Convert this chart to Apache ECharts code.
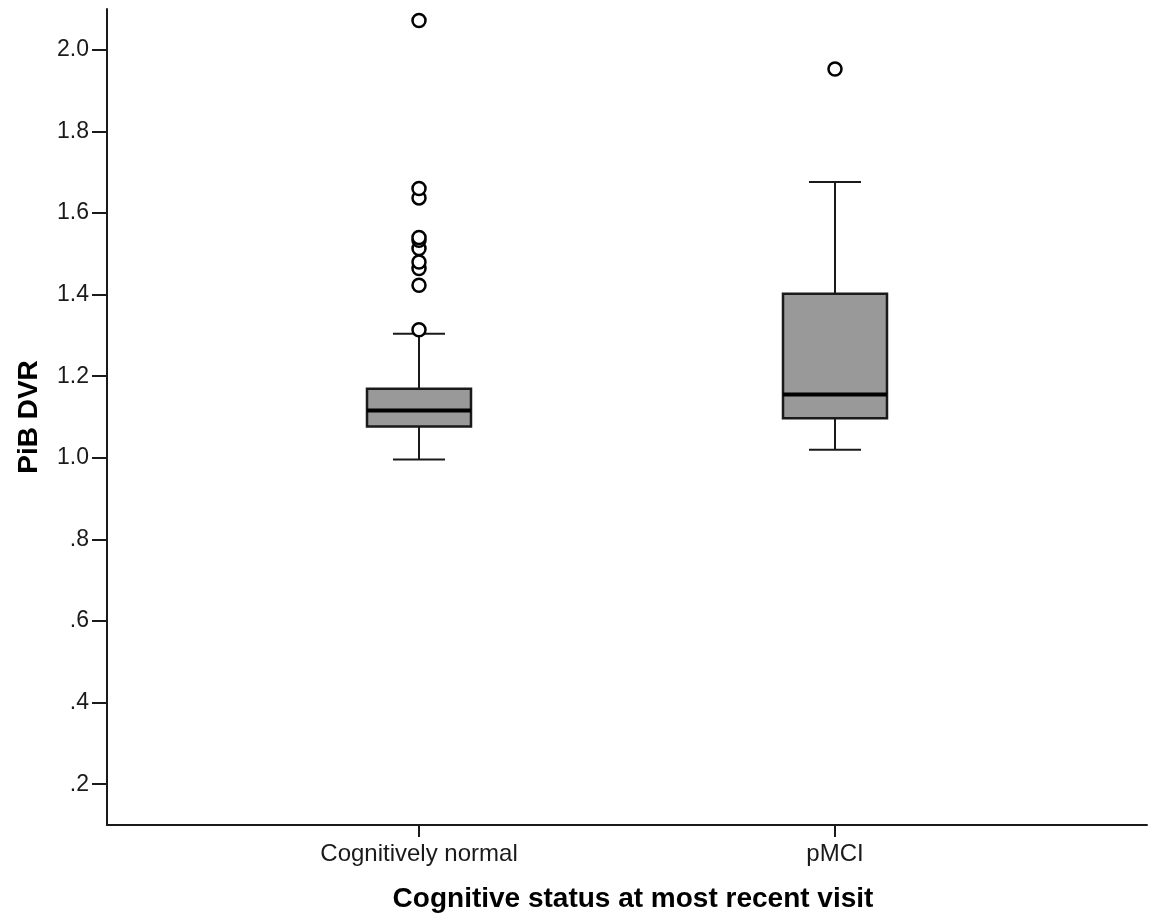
<!DOCTYPE html>
<html>
<head>
<meta charset="utf-8">
<title>PiB DVR by cognitive status</title>
<script src="https://cdn.jsdelivr.net/npm/echarts@6/dist/echarts.min.js"></script>
<style>
  html, body { margin: 0; padding: 0; background: #fff; }
  #chart { width: 1150px; height: 919px; }
</style>
</head>
<body>
<div id="chart"></div>
<script>
// 分组
const categories = ['Cognitively normal', 'pMCI']
// 箱线图五数
const lowWhisker = [0.996, 1.020]
const q1 = [1.077, 1.097]
const median = [1.116, 1.155]
const q3 = [1.169, 1.402]
const highWhisker = [1.304, 1.676]
// 异常值
const normalOutliers = [1.314, 1.423, 1.464, 1.480, 1.513, 1.533, 1.540, 1.637, 1.660, 2.072]
const pmciOutliers = [1.953]
// 纵轴刻度
const yTicks = [0.2, 0.4, 0.6, 0.8, 1.0, 1.2, 1.4, 1.6, 1.8, 2.0]

const chart = echarts.init(document.getElementById('chart'))

const boxData = categories.map((c, i) => [i, lowWhisker[i], q1[i], median[i], q3[i], highWhisker[i]])
const outlierData = normalOutliers.map(v => [0, v]).concat(pmciOutliers.map(v => [1, v]))

const lineStyle = { stroke: '#1a1a1a', lineWidth: 2 }

function renderBox(params, api) {
  const idx = api.value(0)
  const band = api.size([1, 0])[0]
  const boxW = band * 0.25
  const low = api.coord([idx, api.value(1)])
  const lq = api.coord([idx, api.value(2)])
  const med = api.coord([idx, api.value(3)])
  const uq = api.coord([idx, api.value(4)])
  const high = api.coord([idx, api.value(5)])
  const x = low[0]
  return {
    type: 'group',
    children: [
      { type: 'line', shape: { x1: x, y1: low[1], x2: x, y2: lq[1] }, style: lineStyle },
      { type: 'line', shape: { x1: x, y1: uq[1], x2: x, y2: high[1] }, style: lineStyle },
      { type: 'line', shape: { x1: x - boxW / 4, y1: low[1], x2: x + boxW / 4, y2: low[1] }, style: lineStyle },
      { type: 'line', shape: { x1: x - boxW / 4, y1: high[1], x2: x + boxW / 4, y2: high[1] }, style: lineStyle },
      {
        type: 'rect',
        shape: { x: x - boxW / 2, y: uq[1], width: boxW, height: lq[1] - uq[1] },
        style: { fill: '#999999', stroke: '#1a1a1a', lineWidth: 2.5 }
      },
      { type: 'line', shape: { x1: x - boxW / 2, y1: med[1], x2: x + boxW / 2, y2: med[1] }, style: { stroke: '#000', lineWidth: 4 } }
    ]
  }
}

const option = {
  animation: false,
  backgroundColor: '#fff',
  textStyle: { fontFamily: 'Liberation Sans, Arial, sans-serif' },
  grid: [
    { left: 107, right: 3, top: 9, bottom: 94 },
    { left: 211, right: 107, top: 9, bottom: 94 }
  ],
  xAxis: [
    {
      gridIndex: 0,
      type: 'category',
      data: [''],
      axisLine: { lineStyle: { color: '#1a1a1a', width: 2 } },
      axisTick: { show: false },
      axisLabel: { show: false },
      splitLine: { show: false }
    },
    {
      gridIndex: 1,
      type: 'category',
      data: categories,
      axisLine: { show: true, lineStyle: { color: '#1a1a1a', width: 2 } },
      axisTick: { show: true, interval: 0, alignWithLabel: true, length: 12, lineStyle: { color: '#1a1a1a', width: 2 } },
      axisLabel: { color: '#1a1a1a', fontSize: 24, margin: 17 },
      splitLine: { show: false },
      name: 'Cognitive status at most recent visit',
      nameLocation: 'middle',
      nameGap: 60,
      nameTextStyle: { color: '#000', fontSize: 28, fontWeight: 'bold', padding: [0, 0, 0, 12] }
    }
  ],
  yAxis: [
    {
      gridIndex: 0,
      type: 'value',
      min: 0.1,
      max: 2.1,
      axisLine: { show: true, lineStyle: { color: '#1a1a1a', width: 2 } },
      axisTick: { show: true, length: 15, customValues: yTicks, lineStyle: { color: '#1a1a1a', width: 2 } },
      axisLabel: {
        customValues: yTicks,
        color: '#1a1a1a',
        fontSize: 23,
        margin: 18,
        formatter: v => (v < 1 ? v.toFixed(1).replace(/^0/, '') : v.toFixed(1))
      },
      splitLine: { show: false },
      name: 'PiB DVR',
      nameLocation: 'middle',
      nameGap: 64,
      nameTextStyle: { color: '#000', fontSize: 28, fontWeight: 'bold' }
    },
    {
      gridIndex: 1,
      type: 'value',
      min: 0.1,
      max: 2.1,
      show: false
    }
  ],
  series: [
    {
      type: 'custom',
      xAxisIndex: 1,
      yAxisIndex: 1,
      renderItem: renderBox,
      data: boxData,
      z: 2
    },
    {
      type: 'scatter',
      xAxisIndex: 1,
      yAxisIndex: 1,
      symbol: 'circle',
      symbolSize: 13,
      itemStyle: { color: '#fff', borderColor: '#000', borderWidth: 2.5, opacity: 1 },
      data: outlierData,
      z: 3
    }
  ]
}

chart.setOption(option)
</script>
</body>
</html>
